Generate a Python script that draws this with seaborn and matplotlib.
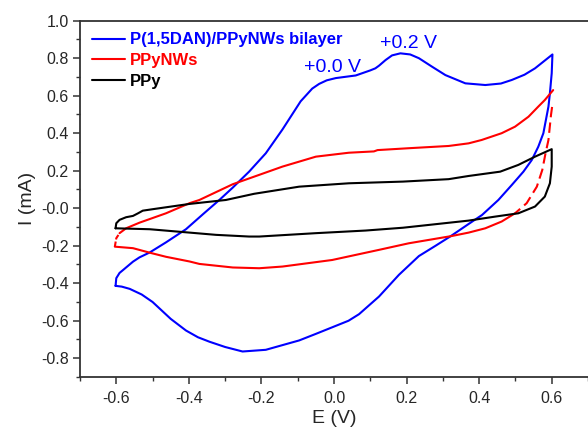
import numpy as np
import pandas as pd
import matplotlib
matplotlib.use("Agg")
import matplotlib.pyplot as plt
import seaborn as sns
from matplotlib.ticker import MultipleLocator

# P(1,5DAN)/PPyNWs bilayer, full CV loop (anodic then cathodic)
bil_E = [-0.602, -0.600, -0.591, -0.581, -0.554, -0.536, -0.508, -0.463, -0.408, -0.360,
         -0.316, -0.279, -0.234, -0.188, -0.142, -0.092, -0.060, -0.041, -0.020, 0.005,
         0.060, 0.100, 0.114, 0.124, 0.142, 0.160, 0.183, 0.210, 0.234, 0.270,
         0.307, 0.362, 0.417, 0.460, 0.490, 0.525, 0.554, 0.602,
         0.600, 0.595, 0.591, 0.577, 0.563, 0.545, 0.522, 0.490, 0.453, 0.408,
         0.371, 0.320, 0.280, 0.234, 0.179, 0.124, 0.069, 0.040, -0.005, -0.050,
         -0.096, -0.188, -0.252, -0.300, -0.343, -0.375, -0.408, -0.450, -0.500, -0.530,
         -0.563, -0.585, -0.602]
bil_I = [-0.414, -0.373, -0.345, -0.329, -0.285, -0.262, -0.236, -0.182, -0.112, -0.030,
         0.044, 0.110, 0.195, 0.293, 0.420, 0.570, 0.638, 0.663, 0.682, 0.694,
         0.708, 0.735, 0.746, 0.760, 0.790, 0.815, 0.826, 0.820, 0.800, 0.755,
         0.710, 0.666, 0.657, 0.665, 0.684, 0.712, 0.746, 0.820,
         0.720, 0.613, 0.542, 0.400, 0.328, 0.257, 0.195, 0.124, 0.044, -0.036,
         -0.084, -0.151, -0.200, -0.255, -0.355, -0.471, -0.565, -0.600, -0.635, -0.670,
         -0.705, -0.755, -0.764, -0.740, -0.712, -0.688, -0.652, -0.590, -0.500, -0.460,
         -0.430, -0.418, -0.414]

# PPyNWs: solid anodic, dashed start of the cathodic sweep, solid cathodic
nw_up_E = [-0.591, -0.573, -0.536, -0.463, -0.398, -0.371, -0.279, -0.206, -0.142, -0.050,
           0.041, 0.110, 0.120, 0.206, 0.316, 0.371, 0.407, 0.462, 0.499, 0.536,
           0.563, 0.581, 0.604]
nw_up_I = [-0.133, -0.107, -0.077, -0.027, 0.027, 0.044, 0.128, 0.178, 0.222, 0.275,
           0.296, 0.303, 0.310, 0.320, 0.332, 0.346, 0.364, 0.400, 0.435, 0.488,
           0.542, 0.577, 0.630]
nw_dash_E = [0.601, 0.598, 0.591, 0.583, 0.574, 0.559, 0.531, 0.499]
nw_dash_I = [0.540, 0.497, 0.364, 0.293, 0.204, 0.115, 0.027, -0.027]
nw_down_E = [0.499, 0.462, 0.417, 0.371, 0.325, 0.261, 0.206, 0.124, -0.005, -0.142,
             -0.206, -0.279, -0.371, -0.398, -0.463, -0.508, -0.554, -0.604]
nw_down_I = [-0.027, -0.071, -0.107, -0.130, -0.148, -0.169, -0.187, -0.222, -0.276, -0.311,
             -0.320, -0.316, -0.297, -0.284, -0.259, -0.237, -0.213, -0.205]
nw_left_E = [-0.604, -0.600, -0.591]
nw_left_I = [-0.205, -0.160, -0.133]

# PPy loop
ppy_E = [-0.602, -0.600, -0.591, -0.573, -0.554, -0.540, -0.527, -0.499, -0.463, -0.398,
         -0.298, -0.220, -0.096, 0.041, 0.190, 0.316, 0.371, 0.458, 0.508, 0.554,
         0.600, 0.600, 0.595, 0.581, 0.554, 0.508, 0.443, 0.371, 0.190, 0.087,
         -0.050, -0.206, -0.234, -0.325, -0.398, -0.508, -0.602]
ppy_I = [-0.107, -0.080, -0.062, -0.048, -0.041, -0.027, -0.013, -0.005, 0.005, 0.023,
         0.044, 0.077, 0.115, 0.133, 0.142, 0.155, 0.172, 0.195, 0.231, 0.275,
         0.315, 0.222, 0.133, 0.062, 0.009, -0.027, -0.045, -0.066, -0.104, -0.119,
         -0.133, -0.151, -0.151, -0.142, -0.130, -0.112, -0.107]

blue, red, black = "#0000ff", "#ff0000", "#000000"

sns.set_theme(style="ticks")
plt.rcParams["font.family"] = ["Liberation Sans", "DejaVu Sans"]

fig = plt.figure(figsize=(5.88, 4.32), dpi=100)
ax = fig.add_axes([80 / 588, 1 - 377 / 432, 1 - 80 / 588, (377 - 20.7) / 432])

lw = 1.5
sns.lineplot(x=bil_E, y=bil_I, sort=False, estimator=None, color=blue, lw=lw, ax=ax)
sns.lineplot(x=nw_up_E, y=nw_up_I, sort=False, estimator=None, color=red, lw=lw, ax=ax)
sns.lineplot(x=nw_down_E, y=nw_down_I, sort=False, estimator=None, color=red, lw=lw, ax=ax)
sns.lineplot(x=nw_dash_E, y=nw_dash_I, sort=False, estimator=None, color=red, lw=lw, ax=ax)
ax.lines[-1].set_dashes((5, 2.5))
sns.lineplot(x=nw_left_E, y=nw_left_I, sort=False, estimator=None, color=red, lw=lw, ax=ax)
ax.lines[-1].set_dashes((2.5, 1))
sns.lineplot(x=ppy_E, y=ppy_I, sort=False, estimator=None, color=black, lw=lw, ax=ax)
for ln in ax.lines:
    ln.set_solid_joinstyle("round")

ax.set_xlim(-0.7, 0.7)
ax.set_ylim(-0.9, 1.0)
ax.xaxis.set_minor_locator(MultipleLocator(0.1))
ax.yaxis.set_minor_locator(MultipleLocator(0.1))
xt = np.round(np.arange(-0.6, 0.61, 0.2), 1)
yt = np.round(np.arange(-0.8, 1.01, 0.2), 1)
ax.set_xticks(xt)
ax.set_xticklabels([f"{v:.1f}" for v in xt])
ax.set_yticks(yt)
ax.set_yticklabels([f"{v:.1f}" for v in yt])
ax.tick_params(which="major", length=5, width=1.1, labelsize=11.5, color="#333333")
ax.tick_params(which="minor", length=3, width=1.0, color="#333333")
ax.tick_params(axis="x", which="major", pad=5)
ax.tick_params(axis="y", which="major", pad=3)

for side in ["left", "bottom", "top"]:
    ax.spines[side].set_linewidth(1.3)
    ax.spines[side].set_color("#333333")
ax.spines["right"].set_visible(False)

ax.set_xlabel("E (V)", fontsize=14, labelpad=3)
ax.set_ylabel("I (mA)", fontsize=14, labelpad=4)

ax.text(-0.082, 0.753, "+0.0 V", color=blue, fontsize=14, ha="left", va="center")
ax.text(0.128, 0.880, "+0.2 V", color=blue, fontsize=14, ha="left", va="center")

handles = [plt.Line2D([], [], color=c, lw=lw) for c in (blue, red, black)]
labels = ["P(1,5DAN)/PPyNWs bilayer", "PPyNWs", "PPy"]
leg = ax.legend(handles, labels, loc="upper left", bbox_to_anchor=(0.0, 1.0),
                frameon=False, handlelength=2.0, handletextpad=0.3, labelspacing=0.35,
                borderaxespad=0.3, prop={"weight": "bold", "size": 12})
for txt, c in zip(leg.get_texts(), (blue, red, black)):
    txt.set_color(c)

fig.savefig("out.png", dpi=100)
